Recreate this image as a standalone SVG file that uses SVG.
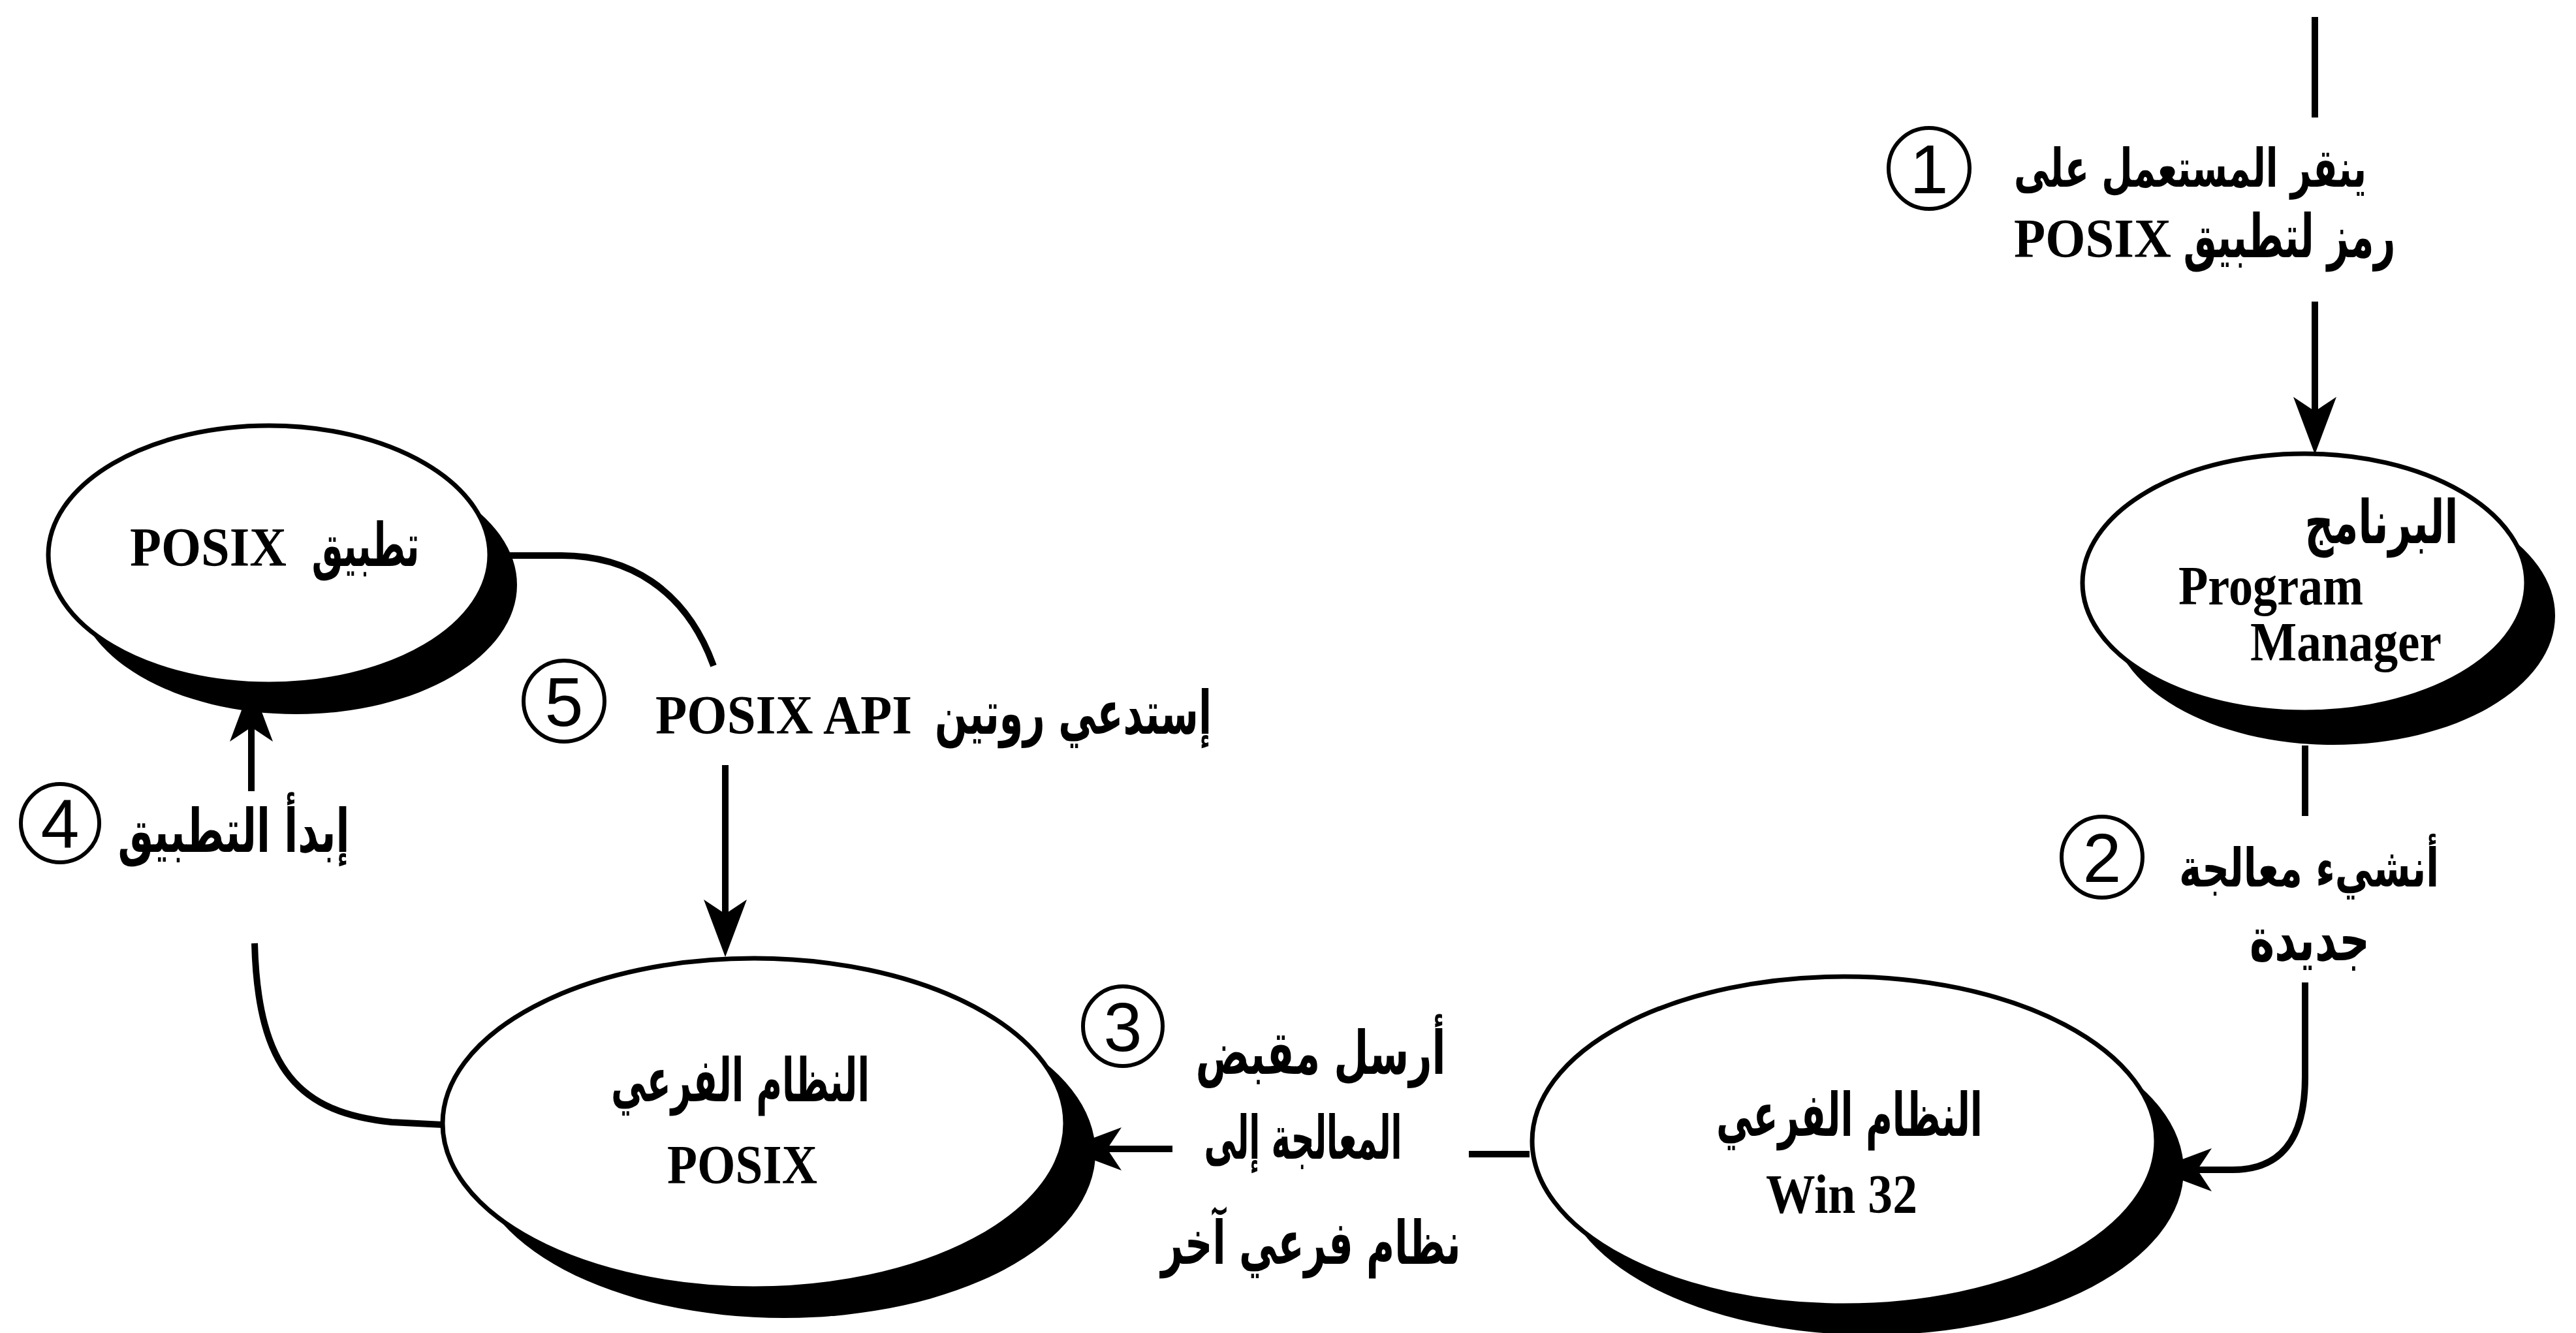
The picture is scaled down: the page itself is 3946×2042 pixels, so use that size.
<svg xmlns="http://www.w3.org/2000/svg" width="3946" height="2042" viewBox="0 0 3946 2042">
<style>
.sh{fill:#000}
.el{fill:#fff;stroke:#000;stroke-width:7}
.ar{font-family:"DejaVu Sans","Noto Sans",sans-serif;font-weight:bold;font-size:92px;fill:#000}
.ar2{font-size:82px}
.en{font-family:"Liberation Serif","Times New Roman",serif;font-weight:bold;font-size:84px;fill:#000}
.num{font-family:"Liberation Sans Narrow","Liberation Sans",Arial,sans-serif;font-size:106px;fill:#000}
.nc{fill:none;stroke:#000;stroke-width:6}
.cn{fill:none;stroke:#000;stroke-width:10}
</style>
<defs>
<marker id="ah" viewBox="-25 -36 95 72" markerWidth="95" markerHeight="72" refX="0" refY="0" orient="auto" markerUnits="userSpaceOnUse">
<path d="M-22,-33 L66,0 L-22,33 L0,0 Z" fill="#000"/>
</marker>
</defs>
<rect x="0" y="0" width="3946" height="2042" fill="#fff"/>

<g id="node-posix-app">
<ellipse class="sh" cx="454" cy="896" rx="338" ry="198"/>
<ellipse class="el" cx="412" cy="850" rx="338" ry="198"/>
<text class="ar" x="560" y="867" direction="rtl" text-anchor="middle" textLength="165" lengthAdjust="spacingAndGlyphs">تطبيق</text>
<text class="en" x="199" y="867" textLength="240" lengthAdjust="spacingAndGlyphs">POSIX</text>
</g>

<g id="node-program-manager">
<ellipse class="sh" cx="3574" cy="943" rx="340" ry="198"/>
<ellipse class="el" cx="3530" cy="893" rx="340" ry="198"/>
<text class="ar" x="3648" y="832" direction="rtl" text-anchor="middle" textLength="235" lengthAdjust="spacingAndGlyphs">البرنامج</text>
<text class="en" x="3337" y="926" textLength="283" lengthAdjust="spacingAndGlyphs">Program</text>
<text class="en" x="3447" y="1012" textLength="293" lengthAdjust="spacingAndGlyphs">Manager</text>
</g>

<g id="node-win32">
<ellipse class="sh" cx="2867" cy="1793" rx="478" ry="252"/>
<ellipse class="el" cx="2825" cy="1748" rx="478" ry="252"/>
<text class="ar" x="2833" y="1740" direction="rtl" text-anchor="middle" textLength="408" lengthAdjust="spacingAndGlyphs">النظام الفرعي</text>
<text class="en" x="2705" y="1858" textLength="232" lengthAdjust="spacingAndGlyphs">Win 32</text>
</g>

<g id="node-posix-subsystem">
<ellipse class="sh" cx="1201" cy="1766" rx="477" ry="253"/>
<ellipse class="el" cx="1155" cy="1721" rx="477" ry="253"/>
<text class="ar" x="1134" y="1687" direction="rtl" text-anchor="middle" textLength="396" lengthAdjust="spacingAndGlyphs">النظام الفرعي</text>
<text class="en" x="1022" y="1813" textLength="230" lengthAdjust="spacingAndGlyphs">POSIX</text>
</g>

<g id="connectors">
<path class="cn" d="M3546,26 L3546,180"/>
<path class="cn" d="M3546,462 L3546,630" marker-end="url(#ah)"/>
<path class="cn" d="M3531,1142 L3531,1250"/>
<path class="cn" d="M3531,1505 L3531,1650 C3531,1750 3490,1792 3420,1792 L3366,1792" marker-end="url(#ah)"/>
<path class="cn" d="M2343,1768 L2250,1768"/>
<path class="cn" d="M1796,1760 L1696,1760" marker-end="url(#ah)"/>
<path class="cn" d="M679,1723 L600,1719 C460,1705 395,1640 390,1445"/>
<path class="cn" d="M385,1212 L385,1114" marker-end="url(#ah)"/>
<path class="cn" d="M750,851 L860,851 C960,851 1050,900 1093,1020"/>
<path class="cn" d="M1111,1172 L1111,1400" marker-end="url(#ah)"/>
</g>

<g id="label-1">
<circle class="nc" cx="2955" cy="258" r="62"/>
<text class="num" x="2955" y="296" text-anchor="middle">1</text>
<text class="ar ar2" x="3355" y="286" direction="rtl" text-anchor="middle" textLength="540" lengthAdjust="spacingAndGlyphs">ينقر المستعمل على</text>
<text class="ar" x="3507" y="394" direction="rtl" text-anchor="middle" textLength="325" lengthAdjust="spacingAndGlyphs">رمز لتطبيق</text>
<text class="en" x="3085" y="394" textLength="241" lengthAdjust="spacingAndGlyphs">POSIX</text>
</g>

<g id="label-2">
<circle class="nc" cx="3220" cy="1313" r="62"/>
<text class="num" x="3220" y="1351" text-anchor="middle">2</text>
<text class="ar ar2" x="3537" y="1358" direction="rtl" text-anchor="middle" textLength="398" lengthAdjust="spacingAndGlyphs">أنشيء معالجة</text>
<text class="ar" x="3538" y="1471" direction="rtl" text-anchor="middle" textLength="184" lengthAdjust="spacingAndGlyphs">جديدة</text>
</g>

<g id="label-3">
<circle class="nc" cx="1720" cy="1572" r="61"/>
<text class="num" x="1720" y="1610" text-anchor="middle">3</text>
<text class="ar" x="2023" y="1645" direction="rtl" text-anchor="middle" textLength="383" lengthAdjust="spacingAndGlyphs">أرسل مقبض</text>
<text class="ar" x="1996" y="1775" direction="rtl" text-anchor="middle" textLength="303" lengthAdjust="spacingAndGlyphs">المعالجة إلى</text>
<text class="ar" x="2008" y="1936" direction="rtl" text-anchor="middle" textLength="459" lengthAdjust="spacingAndGlyphs">نظام فرعي آخر</text>
</g>

<g id="label-4">
<circle class="nc" cx="92" cy="1261" r="60"/>
<text class="num" x="92" y="1299" text-anchor="middle">4</text>
<text class="ar" x="358" y="1305" direction="rtl" text-anchor="middle" textLength="355" lengthAdjust="spacingAndGlyphs">إبدأ التطبيق</text>
</g>

<g id="label-5">
<circle class="nc" cx="864" cy="1074" r="62"/>
<text class="num" x="864" y="1112" text-anchor="middle">5</text>
<text class="en" x="1004" y="1124" textLength="393" lengthAdjust="spacingAndGlyphs">POSIX API</text>
<text class="ar" x="1644" y="1124" direction="rtl" text-anchor="middle" textLength="424" lengthAdjust="spacingAndGlyphs">إستدعي روتين</text>
</g>
</svg>
